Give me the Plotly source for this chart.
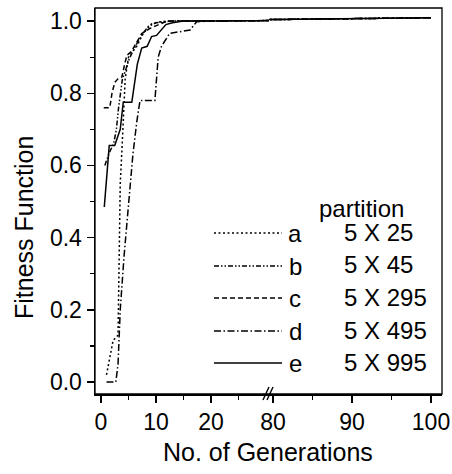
import plotly.graph_objects as go

# ---------------- data ----------------
a_x = [1, 2.2, 3.1, 3.3, 3.5, 3.8, 4.1, 4.4, 5.0, 6.5, 7.7, 9.2, 10.1, 12, 20, 80, 100]
a_y = [0.02, 0.115, 0.13, 0.35, 0.55, 0.64, 0.73, 0.84, 0.90, 0.93, 0.966, 0.992, 0.996, 1.0, 1.0, 1.004, 1.009]

b_x = [0.7, 1.5, 2.3, 2.8, 3.2, 3.6, 3.9, 4.4, 5.0, 5.6, 6.6, 7.6, 8.6, 10, 13, 20, 80, 100]
b_y = [0.60, 0.635, 0.66, 0.70, 0.76, 0.81, 0.84, 0.86, 0.89, 0.91, 0.94, 0.965, 0.985, 0.995, 1.0, 1.0, 1.004, 1.009]

c_x = [0.5, 1.6, 2.0, 2.5, 3.1, 3.8, 4.3, 4.7, 5.5, 6.5, 7.4, 9.0, 10.5, 12, 20, 80, 100]
c_y = [0.76, 0.76, 0.80, 0.83, 0.84, 0.845, 0.88, 0.905, 0.915, 0.94, 0.965, 0.98, 0.99, 1.0, 1.0, 1.004, 1.009]

d_x = [1, 2.7, 3.1, 3.5, 4.2, 5.0, 5.8, 6.5, 7.1, 9.8, 10.4, 11.0, 12.5, 16.2, 17.4, 20, 80, 100]
d_y = [0.0, 0.0, 0.05, 0.20, 0.35, 0.50, 0.63, 0.72, 0.78, 0.78, 0.90, 0.93, 0.966, 0.975, 0.998, 1.0, 1.004, 1.009]

e_x = [0.6, 1.5, 2.5, 3.5, 4.05, 5.6, 6.6, 7.4, 8.4, 9.2, 10.1, 11.8, 13, 15, 20, 80, 100]
e_y = [0.485, 0.655, 0.655, 0.70, 0.775, 0.775, 0.88, 0.925, 0.93, 0.957, 0.96, 0.99, 0.995, 1.0, 1.0, 1.004, 1.009]

series_letters = ["a", "b", "c", "d", "e"]
series_labels = ["5 X 25", "5 X 45", "5 X 295", "5 X 495", "5 X 995"]
legend_title = "partition"
x_title = "No. of Generations"
y_title = "Fitness Function"

left_ticks = [0, 10, 20]
left_minor = [5, 15, 25]
right_ticks = [80, 90, 100]
right_minor = [85, 95]
y_ticks = [0.0, 0.2, 0.4, 0.6, 0.8, 1.0]
y_tick_text = ["0.0", "0.2", "0.4", "0.6", "0.8", "1.0"]
y_minor = [0.1, 0.3, 0.5, 0.7, 0.9]

# ---------------- styling ----------------
dashes = ["2px,2.5px",
          "5px,2px,1.5px,2px,1.5px,2px",
          "5px,3px",
          "7px,2.5px,1.5px,2.5px",
          "solid"]
FONT = "Liberation Sans, Arial, Helvetica, sans-serif"

W, H = 452, 474
L, R, T, B = 95, 10, 8, 80
PW, PH = W - L - R, H - T - B
BREAK = (269 - L) / PW


def px(xp):
    return (xp - L) / PW


def py(yp):
    return (H - B - yp) / PH


fig = go.Figure()
data = [(a_x, a_y), (b_x, b_y), (c_x, c_y), (d_x, d_y), (e_x, e_y)]
for i, (xs, ys) in enumerate(data):
    for xa in ["x", "x2"]:
        fig.add_trace(go.Scatter(
            x=xs, y=ys, mode="lines", xaxis=xa, yaxis="y",
            line=dict(color="black", width=1.5, dash=dashes[i]),
            showlegend=False, hoverinfo="skip"))

tickfont = dict(family=FONT, size=23, color="black")
common_x = dict(showgrid=False, zeroline=False, ticks="outside", ticklen=7,
                tickwidth=1.3, tickcolor="black", showline=True,
                linecolor="black", linewidth=1.5, tickfont=tickfont,
                anchor="y", tickmode="array", automargin=False)

fig.update_layout(
    width=W, height=H,
    margin=dict(l=L, r=R, t=T, b=B, autoexpand=False),
    plot_bgcolor="white", paper_bgcolor="white",
    font=dict(family=FONT, color="black"),
    hovermode=False,
    xaxis=dict(domain=[0, BREAK], range=[-1.09, 30.55],
               tickvals=left_ticks, ticktext=[str(v) for v in left_ticks],
               minor=dict(tickmode="array", tickvals=left_minor, ticks="outside",
                          ticklen=4, tickwidth=1.2, tickcolor="black"),
               **common_x),
    xaxis2=dict(domain=[BREAK, 1], range=[79.49, 101.39],
                tickvals=right_ticks, ticktext=[str(v) for v in right_ticks],
                minor=dict(tickmode="array", tickvals=right_minor, ticks="outside",
                           ticklen=4, tickwidth=1.2, tickcolor="black"),
                **common_x),
    yaxis=dict(range=[-0.033, 1.036], showgrid=False, zeroline=False,
               ticks="outside", ticklen=7, tickwidth=1.3, tickcolor="black",
               showline=True, linecolor="black", linewidth=1.5,
               tickmode="array", tickvals=y_ticks, ticktext=y_tick_text,
               tickfont=tickfont, automargin=False,
               minor=dict(tickmode="array", tickvals=y_minor, ticks="outside",
                          ticklen=4, tickwidth=1.2, tickcolor="black")),
)

shapes = []
# frame
shapes.append(dict(type="rect", xref="paper", yref="paper", x0=0, x1=1, y0=0, y1=1,
                   line=dict(color="black", width=1.3)))
# axis break marks
for off in [-3, 1]:
    shapes.append(dict(type="line", xref="paper", yref="paper",
                       x0=px(266 + off), x1=px(272 + off), y0=py(400), y1=py(387),
                       line=dict(color="black", width=1.4)))

annotations = [dict(text=x_title, xref="paper", yref="paper",
                    x=px(268), y=py(452), showarrow=False,
                    font=dict(family=FONT, size=25, color="black"),
                    xanchor="center", yanchor="middle"),
               dict(text=y_title, xref="paper", yref="paper",
                    x=px(24), y=py(228), showarrow=False, textangle=-90,
                    font=dict(family=FONT, size=25, color="black"),
                    xanchor="center", yanchor="middle"),
               dict(text=legend_title, xref="paper", yref="paper",
                    x=px(361), y=py(208), showarrow=False,
                    font=dict(family=FONT, size=24, color="black"),
                    xanchor="center", yanchor="middle")]

row_y = [233, 266, 298, 331, 363]
for i in range(5):
    shapes.append(dict(type="line", xref="paper", yref="paper",
                       x0=px(214), x1=px(282), y0=py(row_y[i]), y1=py(row_y[i]),
                       line=dict(color="black", width=1.3, dash=dashes[i])))
    annotations.append(dict(text=series_letters[i], xref="paper", yref="paper",
                            x=px(295), y=py(row_y[i]), showarrow=False,
                            font=dict(family=FONT, size=24, color="black"),
                            xanchor="center", yanchor="middle"))
    annotations.append(dict(text=series_labels[i], xref="paper", yref="paper",
                            x=px(342), y=py(row_y[i] - 1), showarrow=False,
                            font=dict(family=FONT, size=24, color="black"),
                            xanchor="left", yanchor="middle"))

fig.update_layout(shapes=shapes, annotations=annotations)
fig.write_html("out.html", config={"displayModeBar": False, "staticPlot": True},
               post_script="document.body.style.margin='0px';document.body.style.overflow='hidden';")
